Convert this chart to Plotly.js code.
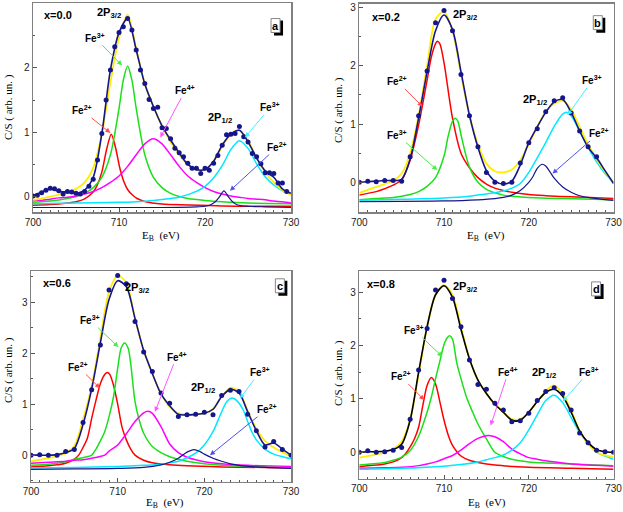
<!DOCTYPE html>
<html><head><meta charset="utf-8">
<script src="https://cdn.plot.ly/plotly-3.0.1.min.js"></script>
<style>html,body{margin:0;padding:0;background:#fff}</style>
</head><body><div id="plot" style="width:623px;height:512px"></div>
<script>
// ---------- common energy grid (eV) ----------
const E1 = [700,701,702,703,704,705,706,707,708,709,710,711,712,713,714,715,716,717,718,719,720,721,722,723,724,725,726,727,728,729,730];

// ---------- panel a : x = 0.0 ----------
const aDotsX = [700,700.5,701,701.5,702,702.5,703,703.5,704,704.5,705,705.5,706,706.5,707,707.5,708,708.5,709,709.5,710,710.5,711,711.5,712,712.5,713,713.5,714,714.5,715,715.5,716,716.5,717,717.5,718,718.5,719,719.5,720,720.5,721,721.5,722,722.5,723,723.5,724,724.5,725,725.5,726,726.5,727,727.5,728,728.5,729,729.5];
const aDotsY = [0.01,0.02,0.06,0.1,0.13,0.12,0.09,0.04,0.08,0.07,0.05,0.04,0.08,0.16,0.27,0.57,0.98,1.5,1.97,2.33,2.55,2.64,2.77,2.59,2.28,1.97,1.76,1.51,1.37,1.39,1.07,1.06,0.9,0.75,0.68,0.62,0.52,0.44,0.44,0.36,0.44,0.41,0.52,0.64,0.8,0.96,0.97,0.98,1.09,0.93,0.85,0.67,0.62,0.51,0.37,0.37,0.36,0.21,0.21,0.08];
const aFit = [0.01,0.07,0.12,0.08,0.07,0.05,0.1,0.3,0.98,1.97,2.55,2.77,2.28,1.75,1.4,1.1,0.88,0.68,0.5,0.42,0.42,0.55,0.8,0.97,1.03,0.85,0.6,0.4,0.3,0.12,0.05];
const aEnv = [-0.05,-0.03,0.0,0.03,0.07,0.12,0.22,0.45,0.98,1.78,2.47,2.83,2.3,1.75,1.4,1.1,0.85,0.65,0.5,0.42,0.42,0.55,0.78,0.97,1.03,0.88,0.6,0.38,0.22,0.1,0.03];
const aFe2X = [700,702,704,705,706,707,707.5,708,708.6,709.1,709.6,710.1,710.6,711.1,711.6,712.1,713.1,715,718,722,730];
const aFe2Y = [-0.135,-0.125,-0.1,-0.08,-0.035,0.07,0.19,0.38,0.76,0.97,0.76,0.44,0.22,0.09,0.02,-0.03,-0.08,-0.115,-0.13,-0.145,-0.15];
const aFe3X = [700,702,704,705,706,707,708,709,710,710.5,711,711.5,712,713,714,715,716,717,718,720,722,725,730];
const aFe3Y = [-0.09,-0.07,-0.03,0.0,0.05,0.14,0.3,0.65,1.37,1.81,2.03,1.81,1.37,0.65,0.3,0.14,0.05,0.0,-0.03,-0.06,-0.08,-0.1,-0.11];
const aFe4 = [-0.06,-0.06,-0.04,-0.02,-0.01,0.01,0.04,0.08,0.14,0.22,0.32,0.47,0.65,0.82,0.9,0.82,0.65,0.47,0.32,0.22,0.14,0.08,0.04,0.01,-0.01,-0.03,-0.04,-0.05,-0.07,-0.08,-0.1];
const aFe3bX = [700,705,710,712,714,716,717,718,719,720,721,722,723,724,725,726,727,728,729,730];
const aFe3bY = [-0.11,-0.1,-0.09,-0.08,-0.06,-0.03,-0.01,0.03,0.08,0.16,0.29,0.48,0.73,0.87,0.75,0.51,0.31,0.18,0.09,0.04];
const aFe2bX = [700,715,719,720,720.6,721.2,721.7,722.2,722.7,723.2,723.8,725,727,730];
const aFe2bY = [-0.17,-0.17,-0.16,-0.15,-0.13,-0.08,0.0,0.09,0.0,-0.08,-0.13,-0.15,-0.16,-0.17];

// ---------- panel b : x = 0.2 ----------
const bDotsX = [700,701,702,703,704,705,706,707,708,709,710,711,712,713,714,715,716,717,718,719,720,721,722,723,724,725,726,727,728];
const bDotsY = [0.0,0.02,0.01,0.03,0.03,0.02,0.44,1.14,1.91,2.74,2.95,2.6,1.85,1.14,0.61,0.17,0.0,-0.02,0.0,0.33,0.68,0.92,1.21,1.4,1.45,1.19,0.88,0.61,0.44];
const bFit = [0.0,0.01,0.02,0.03,0.03,0.05,0.4,1.1,1.9,2.6,2.87,2.62,1.9,1.15,0.6,0.2,0.02,-0.03,0.02,0.3,0.68,0.95,1.2,1.38,1.42,1.2,0.88,0.6,0.42,0.2,-0.02];
const bEnv = [-0.18,-0.13,-0.08,-0.03,0.03,0.15,0.5,1.15,2.0,2.8,2.93,2.6,1.85,1.15,0.65,0.32,0.19,0.17,0.22,0.38,0.65,0.95,1.22,1.35,1.4,1.25,0.95,0.65,0.4,0.18,0.0];
const bFe2X = [700,701,702,703,704,705,706,707,708,708.5,709,709.2,709.5,710,711,712,713,714,715,716,717,718,720,722,725,730];
const bFe2Y = [-0.22,-0.19,-0.16,-0.11,-0.05,0.05,0.38,0.98,1.75,2.15,2.38,2.42,2.38,2.05,1.1,0.5,0.25,0.08,-0.03,-0.1,-0.14,-0.17,-0.21,-0.23,-0.25,-0.28];
const bFe3X = [700,702,704,705,706,707,708,709,710,710.5,711,711.3,711.6,712,712.5,713,714,715,716,717,718,720,724,730];
const bFe3Y = [-0.3,-0.28,-0.26,-0.24,-0.21,-0.16,-0.07,0.08,0.45,0.8,1.05,1.1,1.06,0.82,0.51,0.26,0.0,-0.12,-0.18,-0.22,-0.24,-0.26,-0.28,-0.3];
const bFe3bX = [700,705,710,713,715,716,717,718,719,720,721,722,723,724,724.5,725,726,727,728,729,730];
const bFe3bY = [-0.31,-0.29,-0.27,-0.24,-0.2,-0.18,-0.15,-0.1,-0.02,0.17,0.42,0.68,0.96,1.17,1.2,1.14,0.88,0.6,0.35,0.15,0.0];
const bFe2bX = [700,710,714,716,717,718,719,720,720.5,721,721.6,722,722.5,723,724,725,726,727,728,730];
const bFe2bY = [-0.33,-0.32,-0.3,-0.28,-0.26,-0.22,-0.14,0.0,0.1,0.24,0.31,0.28,0.18,0.07,-0.08,-0.17,-0.23,-0.26,-0.28,-0.31];

// ---------- panel c : x = 0.6 ----------
const cDotsY = [0.0,0.01,0.0,0.0,0.07,0.11,0.64,1.28,2.16,3.24,3.52,3.36,2.62,2.02,1.64,1.22,1.02,0.76,0.79,0.8,0.84,0.79,1.17,1.27,1.25,0.8,0.48,0.16,0.27,0.11,0.0];
const cFit = [0.0,0.0,0.0,0.01,0.05,0.13,0.6,1.3,2.2,3.05,3.42,3.3,2.68,2.05,1.6,1.2,0.97,0.8,0.79,0.8,0.82,0.9,1.15,1.29,1.22,0.85,0.48,0.2,0.24,0.12,0.0];
const cEnv = [-0.12,-0.09,-0.06,-0.02,0.04,0.18,0.7,1.35,2.3,3.2,3.52,3.38,2.68,2.05,1.6,1.2,0.95,0.82,0.8,0.8,0.82,0.9,1.15,1.32,1.25,0.87,0.52,0.28,0.15,0.06,-0.02];
const cFe2X = [700,702,703,704,705,705.5,706,706.5,707,707.5,708,708.5,708.8,709.1,709.5,710,710.5,711,711.5,712,713,714,716,718,722,730];
const cFe2Y = [-0.23,-0.21,-0.19,-0.16,-0.08,0.0,0.15,0.33,0.72,1.08,1.4,1.58,1.62,1.58,1.38,1.0,0.55,0.3,0.12,0.0,-0.1,-0.15,-0.19,-0.21,-0.23,-0.25];
const cFe3X = [700,702,703,704,705,706,707,707.5,708,708.5,709,709.5,710,710.4,710.8,711.2,711.5,712,712.5,713,714,715,716,717,718,720,722,725,730];
const cFe3Y = [-0.2,-0.18,-0.16,-0.13,-0.08,-0.05,0.0,0.12,0.28,0.46,0.75,1.13,1.7,2.1,2.2,2.1,1.8,1.05,0.68,0.43,0.17,0.05,-0.03,-0.08,-0.12,-0.17,-0.2,-0.22,-0.24];
const cFe4X = [700,702,704,705,706,707,708.5,709,710,711,712,713,713.5,714,715,716,717,718,719,720,722,725,730];
const cFe4Y = [-0.16,-0.14,-0.12,-0.1,-0.09,-0.06,0.0,0.08,0.2,0.42,0.66,0.83,0.86,0.82,0.56,0.22,0.05,-0.04,-0.09,-0.13,-0.17,-0.2,-0.22];
const cFe3bX = [700,705,710,713,715,716,717,718,719,720,721,722,722.6,723.2,723.8,724.5,725,725.5,726,727,728,729,730];
const cFe3bY = [-0.25,-0.24,-0.22,-0.2,-0.18,-0.15,-0.12,-0.05,0.04,0.2,0.46,0.85,1.05,1.12,1.06,0.88,0.66,0.45,0.3,0.12,0.02,-0.03,-0.07];
const cFe2bX = [700,705,710,713,715,716,717,718,718.8,719.5,720,721,722,723,724,726,730];
const cFe2bY = [-0.28,-0.27,-0.26,-0.24,-0.19,-0.14,-0.06,0.06,0.11,0.07,0.02,-0.06,-0.12,-0.17,-0.2,-0.23,-0.26];

// ---------- panel d : x = 0.8 ----------
const dDotsY = [0.0,0.03,0.0,0.01,0.04,0.09,0.62,1.54,2.32,3.04,3.22,2.88,2.35,1.73,1.27,1.18,0.92,0.79,0.57,0.59,0.73,0.97,1.14,1.21,1.1,0.79,0.36,0.18,0.04,0.01,0.0];
const dFit = [0.0,0.01,0.01,0.02,0.05,0.15,0.6,1.5,2.35,2.95,3.12,2.9,2.3,1.75,1.35,1.1,0.9,0.75,0.6,0.6,0.75,0.95,1.12,1.18,1.05,0.75,0.4,0.18,0.05,0.01,0.0];
const dEnv = [-0.1,-0.07,-0.04,0.0,0.06,0.2,0.62,1.45,2.35,2.95,3.13,2.95,2.35,1.75,1.35,1.1,0.9,0.75,0.62,0.62,0.75,0.95,1.15,1.25,1.1,0.78,0.4,0.15,0.0,-0.06,-0.09];
const dFe2X = [700,702,703,704,705,705.5,706,706.5,707,707.5,708,708.5,709,709.5,710,710.5,711,712,713,714,716,720,725,730];
const dFe2Y = [-0.27,-0.24,-0.22,-0.18,-0.1,-0.02,0.1,0.25,0.47,0.88,1.25,1.4,1.28,0.95,0.6,0.32,0.13,-0.07,-0.15,-0.19,-0.24,-0.28,-0.3,-0.32];
const dFe3X = [700,702,703,704,705,706,707,708,708.5,709,709.5,710,710.4,710.7,711,711.5,712,712.7,713.3,714,715,716,717,718,720,722,725,730];
const dFe3Y = [-0.24,-0.21,-0.19,-0.15,-0.09,0.03,0.3,0.75,1.03,1.38,1.7,2.02,2.15,2.18,2.12,1.68,1.38,1.01,0.78,0.53,0.25,0.0,-0.08,-0.13,-0.18,-0.2,-0.22,-0.25];
const dFe4X = [700,703,705,707,708,709,710,711,712,713,714,715,715.5,716,717,718,719,720,721,722,724,726,730];
const dFe4Y = [-0.3,-0.29,-0.28,-0.25,-0.22,-0.18,-0.12,-0.06,0.04,0.16,0.26,0.31,0.31,0.29,0.2,0.06,-0.03,-0.1,-0.13,-0.16,-0.2,-0.23,-0.26];
const dFe3bX = [700,705,710,712,714,715,716,717,718,719,720,721,722,723,724,725,726,727,728,729,730];
const dFe3bY = [-0.32,-0.3,-0.26,-0.23,-0.18,-0.14,-0.1,-0.05,0.04,0.18,0.42,0.7,0.97,1.07,0.93,0.65,0.37,0.17,0.0,-0.07,-0.13];

// ---------- styles ----------
const RED='#ff0000', GREEN='#19e019', MAG='#ff00ff', CYAN='#00e8ff', NAVY='#16168c', YEL='#ffee00', BLK='#000000';

function ln(xs, ys, color, n, w){
  const s = n===1 ? '' : String(n);
  return {x:xs, y:ys, xaxis:'x'+s, yaxis:'y'+s, type:'scatter', mode:'lines',
          line:{color:color, width:w||1.5, shape:'spline', smoothing:0.8}, hoverinfo:'skip'};
}
function dots(xs, ys, n){
  const s = n===1 ? '' : String(n);
  return {x:xs, y:ys, xaxis:'x'+s, yaxis:'y'+s, type:'scatter', mode:'markers',
          marker:{color:NAVY, size:5}, hoverinfo:'skip'};
}

const traces = [
  // a
  ln(aFe2X,aFe2Y,RED,1), ln(aFe3X,aFe3Y,GREEN,1), ln(E1,aFe4,MAG,1), ln(aFe3bX,aFe3bY,CYAN,1), ln(aFe2bX,aFe2bY,NAVY,1,1.2),
  ln(E1,aEnv,YEL,1,1.8), ln(E1,aFit,NAVY,1,1.6), dots(aDotsX,aDotsY,1),
  // b
  ln(bFe2X,bFe2Y,RED,2), ln(bFe3X,bFe3Y,GREEN,2), ln(bFe3bX,bFe3bY,CYAN,2), ln(bFe2bX,bFe2bY,NAVY,2,1.2),
  ln(E1,bEnv,YEL,2,1.8), ln(E1,bFit,NAVY,2,1.6), dots(bDotsX,bDotsY,2),
  // c
  ln(cFe2X,cFe2Y,RED,3), ln(cFe3X,cFe3Y,GREEN,3), ln(cFe4X,cFe4Y,MAG,3), ln(cFe3bX,cFe3bY,CYAN,3), ln(cFe2bX,cFe2bY,NAVY,3,1.2),
  ln(E1,cEnv,YEL,3,1.8), ln(E1,cFit,NAVY,3,1.6), dots(E1,cDotsY,3),
  // d
  ln(dFe2X,dFe2Y,RED,4), ln(dFe3X,dFe3Y,GREEN,4), ln(dFe4X,dFe4Y,MAG,4), ln(dFe3bX,dFe3bY,CYAN,4),
  ln(E1,dEnv,YEL,4,1.8), ln(E1,dFit,BLK,4,1.6), dots(E1,dDotsY,4)
];

const tickFont = {family:'Liberation Sans, Arial, sans-serif', size:10, color:'#222'};
function xax(dom, anchor){
  return {domain:dom, range:[700,730], anchor:anchor, tick0:700, dtick:10, ticks:'inside', ticklen:4,
    tickcolor:'#555', showline:true, mirror:true, linecolor:'#808080', linewidth:1.5,
    showgrid:false, zeroline:false, tickfont:tickFont, fixedrange:true, ticklabeloverflow:'allow',
    minor:{dtick:1, ticks:'inside', ticklen:2, tickcolor:'#555'}};
}
function yax(dom, rng, anchor){
  return {domain:dom, range:rng, anchor:anchor, tick0:0, dtick:1, ticks:'inside', ticklen:4,
    tickcolor:'#555', showline:true, mirror:true, linecolor:'#808080', linewidth:1.5,
    showgrid:false, zeroline:false, tickfont:tickFont, fixedrange:true,
    minor:{dtick:0.5, ticks:'inside', ticklen:2, tickcolor:'#555'}};
}

const lblFont = {family:'Liberation Sans, Arial, sans-serif', size:10, color:'#000'};
const bigFont = {family:'Liberation Sans, Arial, sans-serif', size:11, color:'#000'};
const ttlFont = {family:'Liberation Serif, Times New Roman, serif', size:11, color:'#000'};

const ann = [];
const shp = [];
function txt(n, x, y, t, f){
  const s = n===1 ? '' : String(n);
  ann.push({xref:'x'+s, yref:'y'+s, x:x, y:y, text:t, showarrow:false, font:f||bigFont});
}
function arr(n, tx, ty, hx, hy, t, color){
  const s = n===1 ? '' : String(n);
  ann.push({xref:'x'+s, yref:'y'+s, axref:'x'+s, ayref:'y'+s, x:hx, y:hy, ax:tx, ay:ty,
    text:t, showarrow:true, arrowhead:2, arrowsize:1, arrowwidth:1, arrowcolor:color,
    standoff:0, startstandoff:0, font:lblFont});
}
function box(n, x, y, t){
  const s = n===1 ? '' : String(n);
  shp.push({type:'rect', xref:'x'+s, yref:'y'+s, xsizemode:'pixel', ysizemode:'pixel',
    xanchor:x, yanchor:y, x0:-2, x1:7, y0:-10, y1:5, fillcolor:'#000', line:{width:0}, layer:'above'});
  shp.push({type:'rect', xref:'x'+s, yref:'y'+s, xsizemode:'pixel', ysizemode:'pixel',
    xanchor:x, yanchor:y, x0:-5, x1:4, y0:-7, y1:7, fillcolor:'#fff', line:{color:'#888', width:1}, layer:'above'});
  ann.push({xref:'x'+s, yref:'y'+s, x:x, y:y, text:'<b>'+t+'</b>', showarrow:false, xshift:-0.5,
    font:{family:'Liberation Sans, Arial, sans-serif', size:11, color:'#000'}});
}
const F2='<b>Fe<sup>2+</sup></b>', F3='<b>Fe<sup>3+</sup></b>', F4='<b>Fe<sup>4+</sup></b>';
const P32='<b>2P<sub>3/2</sub></b>', P12='<b>2P<sub>1/2</sub></b>';

// panel a
txt(1,702.9,2.82,'<b>x=0.0</b>'); txt(1,708.8,2.86,P32); box(1,728.26,2.66,'a');
arr(1,707.2,2.47,710.35,2.04,F3,'#44ee44');
arr(1,705.7,1.34,709.0,0.99,F2,'#ff5050');
arr(1,717.7,1.65,714.8,0.92,F4,'#ff55ff');
txt(1,721.7,1.22,P12);
arr(1,727.6,1.39,724.65,0.92,F3,'#44eeff');
arr(1,728.4,0.77,722.9,0.09,F2,'#5050ee');
// panel b
txt(2,703.2,2.84,'<b>x=0.2</b>'); txt(2,712.5,2.87,P32); box(2,728.2,2.74,'b');
arr(2,704.5,1.73,707.46,1.3,F2,'#ff5050');
arr(2,704.5,0.81,709.2,0.21,F3,'#44ee44');
txt(2,720.7,1.41,P12);
arr(2,727.5,1.75,724.56,1.15,F3,'#44eeff');
arr(2,728.25,0.84,722.8,0.15,F2,'#5050ee');
// panel c
txt(3,703.0,3.37,'<b>x=0.6</b>'); txt(3,712.2,3.27,P32); box(3,728.77,3.32,'c');
arr(3,706.8,2.65,710.08,2.12,F3,'#44ee44');
arr(3,705.46,1.73,707.96,1.31,F2,'#ff5050');
arr(3,716.8,1.93,714.3,0.85,F4,'#ff55ff');
txt(3,719.9,1.31,P12);
arr(3,726.4,1.63,724.1,1.11,F3,'#44eeff');
arr(3,727.2,0.9,720.65,0.0,F2,'#5050ee');
// panel d
txt(4,702.6,3.15,'<b>x=0.8</b>'); txt(4,712.5,3.1,P32); box(4,728.0,3.06,'d');
arr(4,706.5,2.29,709.8,1.79,F3,'#44ee44');
arr(4,704.9,1.42,707.66,0.98,F2,'#ff5050');
arr(4,717.6,1.51,715.5,0.5,F4,'#ff55ff');
txt(4,721.85,1.48,P12);
arr(4,727.1,1.51,724.0,0.95,F3,'#44eeff');

// axis titles (paper coords)
function ptxt(px, py, t, ang){
  ann.push({xref:'paper', yref:'paper', x:px/623, y:1-py/512, text:t, showarrow:false,
    font:ttlFont, textangle:ang||0, xanchor:'center', yanchor:'middle'});
}
const XT='E<sub>B</sub>  (eV)', YT='C/S ( arb. un. )';
ptxt(161,236,XT); ptxt(486,236,XT); ptxt(165,503,XT); ptxt(487,503,XT);
ptxt(8,107,YT,-90); ptxt(338,110,YT,-90); ptxt(8,370,YT,-90); ptxt(338,373,YT,-90);

const layout = {
  width:623, height:512, margin:{l:0,r:0,t:0,b:0}, paper_bgcolor:'#fff', plot_bgcolor:'#fff',
  showlegend:false,
  xaxis: xax([0.053,0.4671],'y'),
  yaxis: yax([0.5859,0.9941],[-0.24,3.01],'x'),
  xaxis2: xax([0.5767,0.9848],'y2'),
  yaxis2: yax([0.5859,0.9922],[-0.51,3.06],'x2'),
  xaxis3: xax([0.0498,0.4671],'y3'),
  yaxis3: yax([0.0592,0.4707],[-0.52,3.61],'x3'),
  xaxis4: xax([0.5767,0.9848],'y4'),
  yaxis4: yax([0.0645,0.4707],[-0.5,3.395],'x4'),
  shapes: shp,
  annotations: ann
};
Plotly.newPlot('plot', traces, layout, {staticPlot:true, displayModeBar:false});
</script></body></html>
